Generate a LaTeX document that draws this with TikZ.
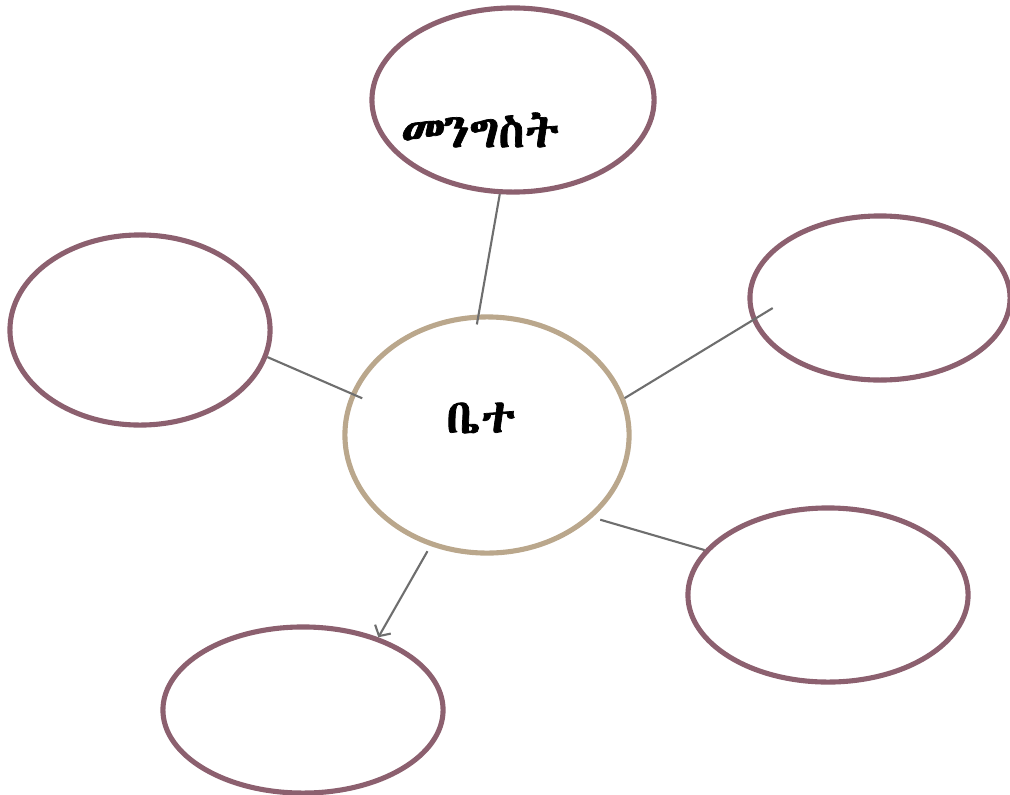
\documentclass[tikz,border=0pt]{standalone}
\usepackage{fontspec}
\usetikzlibrary{shapes.geometric, arrows.meta}
\IfFontExistsTF{Abyssinica SIL}
  {\newfontfamily\ethfont[FakeBold=1.5]{Abyssinica SIL}}
  {\IfFontExistsTF{FreeSerif}
    {\newfontfamily\ethfont[FakeBold=1.5]{FreeSerif}}
    {\newfontfamily\ethfont{DejaVu Sans}}}
\definecolor{mauve}{RGB}{140,96,111}
\definecolor{tan}{RGB}{186,167,140}
\definecolor{linegray}{RGB}{110,110,110}

\begin{document}
\begin{tikzpicture}[x=0.01cm, y=-0.01cm,
    bubble/.style={ellipse, draw=mauve, line width=1.45pt, inner sep=0pt},
    hub/.style={ellipse, draw=tan, line width=1.45pt, inner sep=0pt},
    link/.style={draw=linegray, line width=0.6pt},
    word/.style={font=\ethfont\fontsize{13.5}{16}\selectfont}]
      \useasboundingbox (0,0) rectangle (1010,794);

      \node[hub, minimum width=2.84cm, minimum height=2.36cm](bete) at (487,435){};
      \node[bubble, minimum width=2.82cm, minimum height=1.84cm](top) at (513,100){};
      \node[bubble, minimum width=2.60cm, minimum height=1.90cm](left) at (140,330){};
      \node[bubble, minimum width=2.60cm, minimum height=1.64cm](right) at (880,298){};
      \node[bubble, minimum width=2.80cm, minimum height=1.74cm](lowright) at (828,595){};
      \node[bubble, minimum width=2.80cm, minimum height=1.66cm](bottom) at (303,710){};

      \node[word](betetext) at (481,418){ቤተ};
      \node[word](toptext) at (480,130){መንግስት};

      \draw[link, shorten >=-0.1cm] (top.262.7) -- (bete.94);
      \draw[link, shorten >=-0.12cm] (left.-12) -- (bete.163.5);
      \draw[link, shorten <=-0.24cm] (right.190.7) -- (bete.15.7);
      \draw[link, shorten <=0.08cm] (bete.-38.2) -- (lowright.160.6);
      \draw[link, -{Straight Barb[length=0.8mm, width=1.8mm]}, shorten <=0.06cm] (bete.243.6) -- (bottom.44.2);
    \end{tikzpicture}
\end{document}
